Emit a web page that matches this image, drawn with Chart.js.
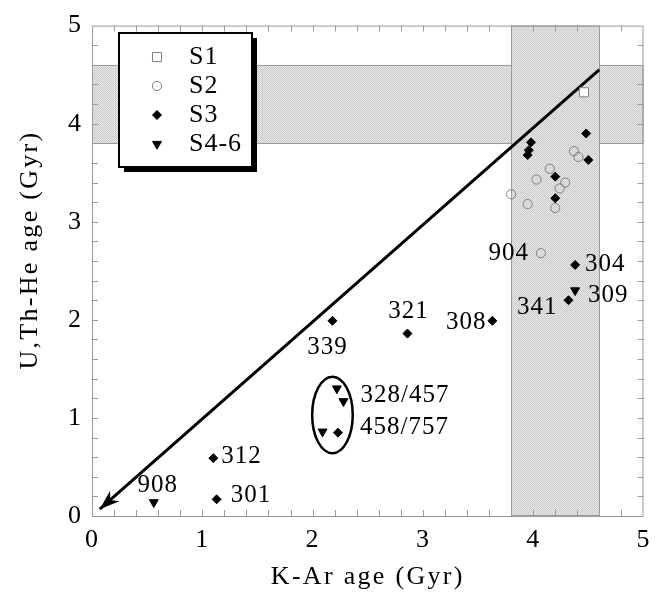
<!DOCTYPE html>
<html>
<head>
<meta charset="utf-8">
<title>K-Ar vs U,Th-He ages</title>
<style>
    html, body { margin: 0; padding: 0; background: #fff; }
    #age-chart { display: block; }
</style>
</head>
<body>
<canvas id="age-chart" width="659" height="593"></canvas>
<script src="https://cdn.jsdelivr.net/npm/chart.js@4.4.1/dist/chart.umd.min.js"></script>
<script>
(function () {
    'use strict';

    // Ages in Gyr: [K-Ar, U,Th-He].
    var s1Points = [[4.46, 4.32]];
    var s2Points = [
        [4.37, 3.72], [4.41, 3.66], [4.15, 3.54], [4.03, 3.43], [4.29, 3.40],
        [4.24, 3.34], [3.80, 3.28], [3.95, 3.18], [4.20, 3.14], [4.07, 2.68]
    ];
    var s3Points = [
        [4.48, 3.90], [3.98, 3.81], [3.96, 3.73], [3.95, 3.68], [4.50, 3.63],
        [4.20, 3.46], [4.20, 3.24], [4.38, 2.56], [4.32, 2.20], [3.63, 1.99],
        [2.86, 1.86], [2.18, 1.99], [2.23, 0.85], [1.10, 0.59], [1.13, 0.17]
    ];
    var s46Points = [[4.38, 2.30], [2.22, 1.30], [2.28, 1.17], [2.09, 0.86], [0.56, 0.14]];
    var seriesNames = ['S1', 'S2', 'S3', 'S4-6'];

    // Axis range and tick steps (Gyr).
    var axisRange = [0, 5];
    var majorStep = 1;
    var minorStep = 0.2;

    // Crystallisation age window shown as shaded bands.
    var ageBand = [3.8, 4.6];

    // Equal-age line, arrow at the first point.
    var equalAgeLine = [[0.07, 0.07], [4.6, 4.55]];

    // Sample numbers and the point each one belongs to.
    var sampleIds = ['904', '304', '309', '341', '308', '321', '339', '328/457', '458/757', '312', '301', '908'];
    var sampleKAr = [4.07, 4.38, 4.38, 4.32, 3.63, 2.86, 2.18, 2.28, 2.23, 1.10, 1.13, 0.56];
    var sampleUThHe = [2.68, 2.56, 2.30, 2.20, 1.99, 1.86, 1.99, 1.17, 0.85, 0.59, 0.17, 0.14];

    // Grouped samples: centre K-Ar, centre U,Th-He, half-width, half-height.
    var groupEllipse = [2.18, 1.03, 0.184, 0.39];

    var SERIF = '"Liberation Serif", "Times New Roman", serif';

    // Pixel placement of each sample number relative to its point.
    var sampleLabelLayout = [
        { align: 'right', dx: -12, dy: 0 },
        { align: 'left', dx: 10, dy: 0 },
        { align: 'left', dx: 13, dy: 5 },
        { align: 'right', dx: -11, dy: 7 },
        { align: 'right', dx: -6, dy: 2 },
        { align: 'center', dx: 1, dy: -22 },
        { align: 'center', dx: -5, dy: 27 },
        { align: 'left', dx: 17, dy: -6 },
        { align: 'left', dx: 22, dy: -5 },
        { align: 'left', dx: 8, dy: -2 },
        { align: 'left', dx: 14, dy: -4 },
        { align: 'center', dx: 4, dy: -17 }
    ];

    /**
     * Convert [x, y] pairs into Chart.js point objects.
     */
    function toXY(pairs) {
        return pairs.map(function (p) {
            return { x: p[0], y: p[1] };
        });
    }

    /**
     * Small checker texture used for the shaded bands.
     */
    function makeBandPattern(ctx) {
        var c = document.createElement('canvas');
        c.width = 2;
        c.height = 2;
        var p = c.getContext('2d');
        p.fillStyle = '#e4e4e4';
        p.fillRect(0, 0, 2, 2);
        p.fillStyle = '#cecece';
        p.fillRect(0, 0, 1, 1);
        p.fillRect(1, 1, 1, 1);
        return ctx.createPattern(c, 'repeat');
    }

    /**
     * Draw a marker the way the datasets draw theirs.
     */
    function drawMarker(ctx, ds, x, y) {
        ctx.save();
        ctx.fillStyle = ds.pointBackgroundColor;
        ctx.strokeStyle = ds.pointBorderColor;
        ctx.lineWidth = ds.pointBorderWidth;
        if (Chart.helpers && Chart.helpers.drawPoint) {
            Chart.helpers.drawPoint(ctx, {
                pointStyle: ds.pointStyle,
                radius: ds.pointRadius,
                rotation: ds.pointRotation || 0,
                borderWidth: ds.pointBorderWidth
            }, x, y);
        } else {
            var r = ds.pointRadius;
            ctx.beginPath();
            if (ds.pointStyle === 'circle') {
                ctx.arc(x, y, r, 0, Math.PI * 2);
            } else if (ds.pointStyle === 'rect') {
                var h = r * Math.SQRT1_2;
                ctx.rect(x - h, y - h, 2 * h, 2 * h);
            } else if (ds.pointStyle === 'rectRot') {
                ctx.moveTo(x, y - r);
                ctx.lineTo(x + r, y);
                ctx.lineTo(x, y + r);
                ctx.lineTo(x - r, y);
            } else {
                ctx.moveTo(x, y + r);
                ctx.lineTo(x + r * 0.866, y - r * 0.5);
                ctx.lineTo(x - r * 0.866, y - r * 0.5);
            }
            ctx.closePath();
            ctx.fill();
            ctx.stroke();
        }
        ctx.restore();
    }

    var agePlugin = {
        id: 'agePlot',

        beforeDraw: function (chart) {
            chart.ctx.letterSpacing = '1px';
        },

        beforeDatasetsDraw: function (chart) {
            var ctx = chart.ctx;
            var xs = chart.scales.x;
            var ys = chart.scales.y;
            var a = chart.chartArea;
            var b0x = xs.getPixelForValue(ageBand[0]);
            var b1x = xs.getPixelForValue(ageBand[1]);
            var b0y = ys.getPixelForValue(ageBand[0]);
            var b1y = ys.getPixelForValue(ageBand[1]);
            var pattern = makeBandPattern(ctx);

            ctx.save();
            ctx.strokeStyle = '#9c9c9c';
            ctx.lineWidth = 1;

            // Horizontal band (U,Th-He window), then vertical band (K-Ar window).
            ctx.fillStyle = pattern;
            ctx.fillRect(a.left, b1y, a.right - a.left, b0y - b1y);
            ctx.strokeRect(a.left + 0.5, Math.round(b1y) + 0.5, a.right - a.left - 1, Math.round(b0y - b1y));
            ctx.fillRect(b0x, a.top, b1x - b0x, a.bottom - a.top);
            ctx.strokeRect(Math.round(b0x) + 0.5, a.top + 0.5, Math.round(b1x - b0x), a.bottom - a.top - 1);

            // Frame and inward ticks on all four sides.
            ctx.strokeStyle = '#9a9a9a';
            ctx.strokeRect(a.left + 0.5, a.top + 0.5, a.right - a.left - 1, a.bottom - a.top);
            ctx.beginPath();
            var n = Math.round((axisRange[1] - axisRange[0]) / minorStep);
            for (var i = 1; i < n; i++) {
                var v = axisRange[0] + i * minorStep;
                var px = Math.round(xs.getPixelForValue(v)) + 0.5;
                var py = Math.round(ys.getPixelForValue(v)) + 0.5;
                ctx.moveTo(px, a.bottom);
                ctx.lineTo(px, a.bottom - 6);
                ctx.moveTo(px, a.top);
                ctx.lineTo(px, a.top + 6);
                ctx.moveTo(a.left, py);
                ctx.lineTo(a.left + 6, py);
                ctx.moveTo(a.right, py);
                ctx.lineTo(a.right - 6, py);
            }
            ctx.stroke();
            ctx.restore();
        },

        afterDatasetsDraw: function (chart) {
            var ctx = chart.ctx;
            var xs = chart.scales.x;
            var ys = chart.scales.y;
            var a = chart.chartArea;
            var i;

            ctx.save();

            // Arrow head on the equal-age line.
            var tipX = xs.getPixelForValue(equalAgeLine[0][0]);
            var tipY = ys.getPixelForValue(equalAgeLine[0][1]);
            var endX = xs.getPixelForValue(equalAgeLine[1][0]);
            var endY = ys.getPixelForValue(equalAgeLine[1][1]);
            var ang = Math.atan2(tipY - endY, tipX - endX);
            ctx.fillStyle = '#000';
            ctx.beginPath();
            ctx.moveTo(tipX, tipY);
            ctx.lineTo(tipX - 20 * Math.cos(ang) + 7 * Math.sin(ang), tipY - 20 * Math.sin(ang) - 7 * Math.cos(ang));
            ctx.lineTo(tipX - 14 * Math.cos(ang), tipY - 14 * Math.sin(ang));
            ctx.lineTo(tipX - 20 * Math.cos(ang) - 7 * Math.sin(ang), tipY - 20 * Math.sin(ang) + 7 * Math.cos(ang));
            ctx.closePath();
            ctx.fill();

            // Ellipse around the grouped samples.
            var ecx = xs.getPixelForValue(groupEllipse[0]);
            var ecy = ys.getPixelForValue(groupEllipse[1]);
            var erx = xs.getPixelForValue(groupEllipse[0] + groupEllipse[2]) - ecx;
            var ery = ecy - ys.getPixelForValue(groupEllipse[1] + groupEllipse[3]);
            ctx.strokeStyle = '#000';
            ctx.lineWidth = 2.5;
            ctx.beginPath();
            ctx.ellipse(ecx, ecy, erx, ery, 0, 0, Math.PI * 2);
            ctx.stroke();

            // Sample numbers.
            ctx.fillStyle = '#000';
            ctx.font = '25px ' + SERIF;
            ctx.textBaseline = 'middle';
            for (i = 0; i < sampleIds.length; i++) {
                var lay = sampleLabelLayout[i];
                ctx.textAlign = lay.align;
                ctx.fillText(sampleIds[i],
                    xs.getPixelForValue(sampleKAr[i]) + lay.dx,
                    ys.getPixelForValue(sampleUThHe[i]) + lay.dy);
            }

            // Legend box with drop shadow.
            var lx = 119, ly = 33, lw = 133, lh = 134;
            ctx.fillStyle = '#000';
            ctx.fillRect(lx + 5, ly + 5, lw, lh);
            ctx.fillStyle = '#fff';
            ctx.fillRect(lx, ly, lw, lh);
            ctx.lineWidth = 2;
            ctx.strokeRect(lx, ly, lw, lh);

            var rowY = [57, 86, 115, 144];
            var series = chart.data.datasets.filter(function (ds) {
                return seriesNames.indexOf(ds.label) !== -1;
            });
            ctx.font = '26px ' + SERIF;
            ctx.textAlign = 'left';
            for (i = 0; i < series.length; i++) {
                drawMarker(ctx, series[i], lx + 38, rowY[i]);
                ctx.fillStyle = '#000';
                ctx.fillText(series[i].label, lx + 70, rowY[i]);
            }

            // Axis titles.
            ctx.font = '26px ' + SERIF;
            ctx.letterSpacing = '2.3px';
            ctx.textAlign = 'center';
            ctx.fillText('K-Ar age (Gyr)', (a.left + a.right) / 2, 577);
            ctx.translate(30, 250);
            ctx.rotate(-Math.PI / 2);
            ctx.fillText('U,Th-He age (Gyr)', 0, 0);

            ctx.restore();
        }
    };

    function seriesDataset(label, points, style, radius, fill, border, rotation) {
        return {
            label: label,
            data: toXY(points),
            pointStyle: style,
            pointRadius: radius,
            pointHoverRadius: radius,
            pointRotation: rotation || 0,
            pointBackgroundColor: fill,
            pointBorderColor: border,
            pointBorderWidth: 1,
            order: 1
        };
    }

    new Chart(document.getElementById('age-chart').getContext('2d'), {
        type: 'scatter',
        data: {
            datasets: [
                seriesDataset(seriesNames[0], s1Points, 'rect', 6.4, '#ffffff', '#808080'),
                seriesDataset(seriesNames[1], s2Points, 'circle', 4.6, 'rgba(255,255,255,0)', '#808080'),
                seriesDataset(seriesNames[2], s3Points, 'rectRot', 4.5, '#000000', '#000000'),
                seriesDataset(seriesNames[3], s46Points, 'triangle', 5.2, '#000000', '#000000', 180),
                {
                    type: 'line',
                    label: 'equal age',
                    data: toXY(equalAgeLine),
                    borderColor: '#000000',
                    borderWidth: 3,
                    pointRadius: 0,
                    fill: false,
                    showLine: true,
                    order: 2
                }
            ]
        },
        options: {
            responsive: false,
            animation: false,
            events: [],
            layout: {
                padding: { top: 17, right: 14, left: 0, bottom: 0 }
            },
            plugins: {
                legend: { display: false },
                tooltip: { enabled: false }
            },
            scales: {
                x: {
                    type: 'linear',
                    min: axisRange[0],
                    max: axisRange[1],
                    afterFit: function (scale) { scale.height = 77; },
                    grid: { display: false, drawTicks: false },
                    border: { display: false },
                    ticks: {
                        stepSize: majorStep,
                        padding: 9,
                        color: '#000',
                        font: { family: SERIF, size: 26 }
                    }
                },
                y: {
                    type: 'linear',
                    min: axisRange[0],
                    max: axisRange[1],
                    afterFit: function (scale) { scale.width = 92; },
                    grid: { display: false, drawTicks: false },
                    border: { display: false },
                    ticks: {
                        stepSize: majorStep,
                        padding: 10,
                        color: '#000',
                        font: { family: SERIF, size: 26 }
                    }
                }
            }
        },
        plugins: [agePlugin]
    });
})();
</script>
</body>
</html>
